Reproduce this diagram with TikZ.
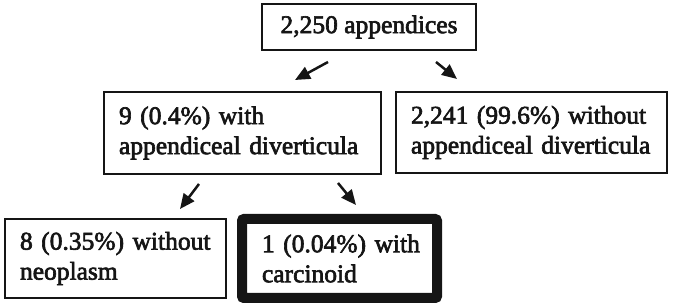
\documentclass[tikz,border=0pt]{standalone}
\usepackage{fontspec}
\setmainfont{Liberation Serif}
\newfontfamily\fcheavy{Liberation Serif}[FakeBold=2.5]
\usetikzlibrary{arrows.meta,positioning,calc}
\definecolor{fcInk}{HTML}{151515}
\newcommand{\fcfont}{\fcheavy\fontsize{25.5}{30}\selectfont}
\tikzset{
  fcbox/.style={
    draw=fcInk, line width=2pt, inner xsep=15pt, inner ysep=0pt,
    align=left, font=\fcfont, text=fcInk
  },
  hlbox/.style={fcbox, line width=10pt, inner xsep=20pt, rounded corners=2pt},
  fcarrow/.style={-{Triangle[length=15pt, width=13pt]}, line width=2.5pt, draw=fcInk}
}
\begin{document}
\begin{tikzpicture}[x=1pt, y=-1pt]
  \useasboundingbox (0,0) rectangle (673,307);
  % boxes
  \node[fcbox, align=center, minimum width=214pt, minimum height=46pt] (total) at (369,27) {2,250 appendices};
  \node[fcbox, text width=247pt, minimum height=82pt] (withdiv) at (242.5,133) {\mbox{9 (0.4\%) with}\\\mbox{appendiceal diverticula}};
  \node[fcbox, text width=241pt, minimum height=81pt] (nodiv) at (531.5,132.5) {\mbox{2,241 (99.6\%) without}\\\mbox{appendiceal diverticula}};
  \node[fcbox, text width=191pt, minimum height=79pt] (noneo) at (115.5,258.5) {\mbox{8 (0.35\%) without}\\\mbox{neoplasm}};
  \node[hlbox, text width=155pt, minimum height=79pt] (carc) at (339.5,258.5) {\mbox{1 (0.04\%) with}\\\mbox{carcinoid}};
  % arrows
  \draw[fcarrow] ($(total.south)+(-41,11)$) -- ($(withdiv.north)+(52.5,-11)$);
  \draw[fcarrow] ($(total.south)+(67,11)$) -- ($(nodiv.north)+(-74.5,-12)$);
  \draw[fcarrow] ($(withdiv.south)+(-43.5,9)$) -- ($(noneo.north)+(64.5,-9)$);
  \draw[fcarrow] ($(withdiv.south)+(95.5,8)$) -- ($(carc.north)+(16.5,-9)$);
\end{tikzpicture}
\end{document}
